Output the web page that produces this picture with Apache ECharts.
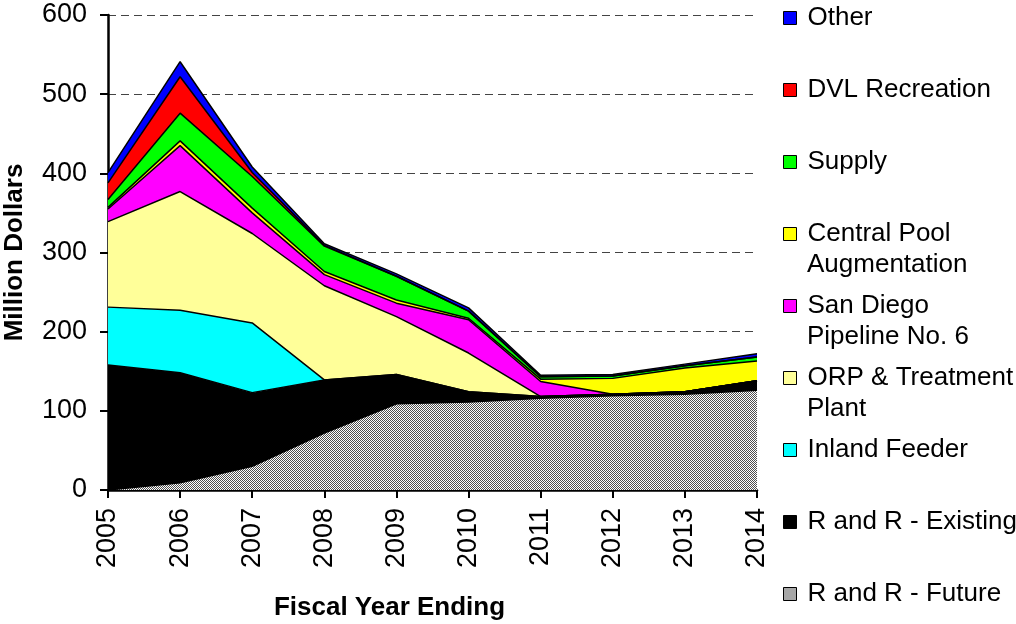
<!DOCTYPE html>
<html>
<head>
<meta charset="utf-8">
<script src="https://cdn.jsdelivr.net/npm/echarts@6/dist/echarts.min.js"></script>
<style>
  html, body { margin: 0; padding: 0; background: #fff; }
  #chart { width: 1016px; height: 624px; }
</style>
</head>
<body>
<div id="chart"></div>
<script>
// data, bottom layer first
const years = ['2005', '2006', '2007', '2008', '2009', '2010', '2011', '2012', '2013', '2014'];
const rrFuture = [0, 9, 30, 72, 109, 111, 116, 119, 121, 126];
const rrExisting = [158, 139, 93, 67, 37, 13, 2, 2, 3, 12];
const inlandFeeder = [73, 79, 88, 0, 0, 0, 0, 0, 0, 0];
const orpTreatment = [108, 150, 113, 119, 73, 49, 0, 0, 0, 0];
const sanDiego = [16, 58, 26, 14, 17, 42, 19, 0, 0, 0];
const centralPool = [2, 6, 6, 4, 4, 2, 3, 20, 30, 25];
const supply = [10, 35, 40, 32, 30, 9, 3, 3, 3, 5];
const dvlRecreation = [21, 46, 5, 1, 0, 0, 0, 0, 0, 0];
const other = [13, 19, 7, 2, 3, 4, 2, 2, 2, 4];
const yTicks = [0, 100, 200, 300, 400, 500, 600];

const FONT = 'Liberation Sans, Arial, sans-serif';

// grey checker fill for R and R - Future
function makePattern() {
    let c = document.createElement('canvas');
    c.width = 2;
    c.height = 2;
    let ctx = c.getContext('2d');
    ctx.fillStyle = '#ffffff';
    ctx.fillRect(0, 0, 2, 2);
    ctx.fillStyle = '#505050';
    ctx.fillRect(0, 0, 1, 1);
    ctx.fillRect(1, 1, 1, 1);
    return { image: c, repeat: 'repeat' };
}
const futureFill = makePattern();

const layers = [
    { name: 'R and R - Future', data: rrFuture, color: futureFill },
    { name: 'R and R - Existing', data: rrExisting, color: '#000000' },
    { name: 'Inland Feeder', data: inlandFeeder, color: '#00ffff' },
    { name: 'ORP & Treatment\nPlant', data: orpTreatment, color: '#ffff99' },
    { name: 'San Diego\nPipeline No. 6', data: sanDiego, color: '#ff00ff' },
    { name: 'Central Pool\nAugmentation', data: centralPool, color: '#ffff00' },
    { name: 'Supply', data: supply, color: '#00ff00' },
    { name: 'DVL Recreation', data: dvlRecreation, color: '#ff0000' },
    { name: 'Other', data: other, color: '#0000ff' }
];

let chart = echarts.init(document.getElementById('chart'));

let series = layers.map(function(l) {
    return {
        name: l.name,
        type: 'line',
        stack: 'total',
        data: l.data,
        symbol: 'none',
        showSymbol: false,
        lineStyle: { color: '#000', width: 1.5 },
        itemStyle: { color: l.color },
        areaStyle: { color: l.color, opacity: 1 },
        emphasis: { disabled: true }
    };
});

// legend top to bottom, second lines drawn as extra text
let legendOrder = layers.map(function(l) { return l.name; }).reverse();
let legendData = legendOrder.map(function(n) {
    if (n === 'R and R - Future') {
        return { name: n, itemStyle: { color: futureFill } };
    }
    return { name: n };
});
let extraLines = [];
legendOrder.forEach(function(n, i) {
    let parts = n.split('\n');
    if (parts.length > 1) {
        extraLines.push({
            type: 'text',
            left: 807,
            top: 18 + 72 * i + 31 - 13,
            style: { text: parts[1], font: '26px ' + FONT, fill: '#000' }
        });
    }
});

let option = {
    animation: false,
    backgroundColor: '#fff',
    grid: { left: 108, right: 259, top: 15, bottom: 134, outerBoundsMode: 'none', containLabel: false },
    legend: {
        orient: 'vertical',
        left: 783,
        top: 5,
        padding: 0,
        icon: 'rect',
        itemWidth: 13,
        itemHeight: 13,
        itemGap: 46,
        selectedMode: false,
        data: legendData,
        formatter: function(n) { return n.split('\n')[0]; },
        itemStyle: { borderColor: '#000', borderWidth: 1 },
        textStyle: { fontFamily: FONT, fontSize: 26, color: '#000', padding: [0, 0, 0, 6] }
    },
    graphic: extraLines,
    xAxis: {
        type: 'category',
        data: years,
        boundaryGap: false,
        name: 'Fiscal Year Ending',
        nameLocation: 'middle',
        nameGap: 105,
        nameTextStyle: { fontFamily: FONT, fontSize: 26, fontWeight: 'bold', color: '#000', padding: [0, 86, 0, 0] },
        axisLine: { lineStyle: { color: '#000', width: 2.5 } },
        axisTick: { length: 8, alignWithLabel: true, lineStyle: { color: '#000', width: 2 } },
        axisLabel: { rotate: 90, margin: 18, fontFamily: FONT, fontSize: 27, color: '#000' },
        splitLine: { show: false }
    },
    yAxis: {
        type: 'value',
        min: yTicks[0],
        max: yTicks[yTicks.length - 1],
        interval: 100,
        name: 'Million Dollars',
        nameLocation: 'middle',
        nameGap: 80,
        nameTextStyle: { fontFamily: FONT, fontSize: 26, fontWeight: 'bold', color: '#000', padding: [0, 0, 0, 0] },
        axisLine: { show: true, lineStyle: { color: '#000', width: 2.5 } },
        axisTick: { show: true, length: 8, lineStyle: { color: '#000', width: 2 } },
        axisLabel: { margin: 21, fontFamily: FONT, fontSize: 27, color: '#000' },
        splitLine: { show: true, lineStyle: { color: '#444', width: 1, type: [8, 5] } }
    },
    series: series
};
chart.setOption(option);
</script>
</body>
</html>
